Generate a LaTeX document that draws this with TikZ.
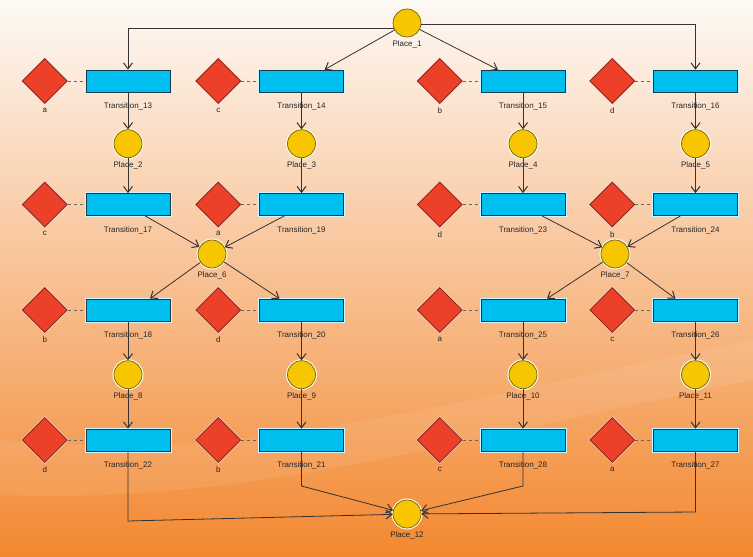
\documentclass[tikz,border=0pt]{standalone}
\usepackage{fontspec}
\setmainfont{Liberation Sans}
\usetikzlibrary{arrows.meta}
\usetikzlibrary{shapes.geometric}
\usetikzlibrary{positioning}
\definecolor{bgtop}{RGB}{253,249,245}
\definecolor{bgmid}{RGB}{251,212,176}
\definecolor{bgbot}{RGB}{243,136,48}
\definecolor{placefill}{RGB}{247,198,0}
\definecolor{placeline}{RGB}{110,95,30}
\definecolor{transfill}{RGB}{0,190,238}
\definecolor{transline}{RGB}{20,60,80}
\definecolor{guardfill}{RGB}{236,64,40}
\definecolor{guardline}{RGB}{120,30,20}

\begin{document}
\begin{tikzpicture}[x=1pt,y=-1pt,
>={Straight Barb[length=6pt,width=9pt,line width=1pt]},
lbl/.style = {font=\fontsize{8}{9}\selectfont, text=black!85, inner sep=1pt},
place_n/.style = {circle, minimum size=28pt, inner sep=0pt, draw=placeline, line width=0.7pt, fill=placefill,
  preaction={draw=white!85!yellow, line width=3pt}, label={[lbl,label distance=2.5pt]below:#1}},
trans_n/.style = {rectangle, minimum width=84pt, minimum height=22pt, inner sep=0pt, draw=transline, line width=0.7pt, fill=transfill,
  preaction={draw=white!85!cyan, line width=3pt}, label={[lbl,label distance=9.5pt]below:#1}},
guard_n/.style = {diamond, minimum size=45pt, inner sep=0pt, draw=guardline, line width=0.7pt, fill=guardfill,
  preaction={draw=white!80!red, line width=2pt}, label={[lbl,label distance=3pt]below:#1}},
arc/.style = {->, draw=black!80, line width=0.8pt},
link/.style = {dashed, draw=black!60, line width=0.8pt}
]
\shade[top color=bgtop, middle color=bgmid, bottom color=bgbot] (0,0) rectangle (753,557);
\fill[white, opacity=0.08] (0,440) .. controls (250,465) and (450,400) .. (753,340) -- (753,380) .. controls (450,440) and (250,505) .. (0,495) -- cycle;
\useasboundingbox (0,0) rectangle (753,557);

\node (P1) [place_n=Place\_1] at (407,23) {};

% first row
\node (T13) [trans_n=Transition\_13] at (128,81) {};
\node (T14) [trans_n=Transition\_14] at (301.5,81) {};
\node (T15) [trans_n=Transition\_15] at (523,81) {};
\node (T16) [trans_n=Transition\_16] at (695.5,81) {};
\node (g13) [guard_n=a, left=18pt of T13] {};
\node (g14) [guard_n=c, left=18pt of T14] {};
\node (g15) [guard_n=b, left=18pt of T15] {};
\node (g16) [guard_n=d, left=18pt of T16] {};
\node (P2) [place_n=Place\_2, below=37pt of T13] {};
\node (P3) [place_n=Place\_3, below=37pt of T14] {};
\node (P4) [place_n=Place\_4, below=37pt of T15] {};
\node (P5) [place_n=Place\_5, below=37pt of T16] {};

% second row
\node (T17) [trans_n=Transition\_17] at (128,204.5) {};
\node (T19) [trans_n=Transition\_19] at (301.5,204.5) {};
\node (T23) [trans_n=Transition\_23] at (523,204.5) {};
\node (T24) [trans_n=Transition\_24] at (695.5,204.5) {};
\node (g17) [guard_n=c, left=18pt of T17] {};
\node (g19) [guard_n=a, left=18pt of T19] {};
\node (g23) [guard_n=d, left=18pt of T23] {};
\node (g24) [guard_n=b, left=18pt of T24] {};
\node (P6) [place_n=Place\_6] at (212,254) {};
\node (P7) [place_n=Place\_7] at (615,254) {};

% third row
\node (T18) [trans_n=Transition\_18] at (128,310) {};
\node (T20) [trans_n=Transition\_20] at (301.5,310) {};
\node (T25) [trans_n=Transition\_25] at (523,310) {};
\node (T26) [trans_n=Transition\_26] at (695.5,310) {};
\node (g18) [guard_n=b, left=18pt of T18] {};
\node (g20) [guard_n=d, left=18pt of T20] {};
\node (g25) [guard_n=a, left=18pt of T25] {};
\node (g26) [guard_n=c, left=18pt of T26] {};
\node (P8) [place_n=Place\_8, below=39pt of T18] {};
\node (P9) [place_n=Place\_9, below=39pt of T20] {};
\node (P10) [place_n=Place\_10, below=39pt of T25] {};
\node (P11) [place_n=Place\_11, below=39pt of T26] {};

% fourth row
\node (T22) [trans_n=Transition\_22] at (128,440) {};
\node (T21) [trans_n=Transition\_21] at (301.5,440) {};
\node (T28) [trans_n=Transition\_28] at (523,440) {};
\node (T27) [trans_n=Transition\_27] at (695.5,440) {};
\node (g22) [guard_n=d, left=18pt of T22] {};
\node (g21) [guard_n=b, left=18pt of T21] {};
\node (g28) [guard_n=c, left=18pt of T28] {};
\node (g27) [guard_n=a, left=18pt of T27] {};
\node (P12) [place_n=Place\_12] at (407,514) {};

\coordinate (c22) at (128,521);
\coordinate (c21) at (301.5,486);
\coordinate (c28) at (523,486);
\coordinate (c27) at (695.5,512);

% guards
\foreach \t in {13,14,15,16,17,19,23,24,18,20,25,26,22,21,28,27}
  \draw[link] (g\t.east) -- (T\t.west);

% arcs
\draw[arc] (P1.201) -| (T13.north);
\draw[arc] (P1) -- ([xshift=23pt]T14.north);
\draw[arc] (P1) -- ([xshift=-25pt]T15.north);
\draw[arc] (P1.-6) -| (T16.north);
\draw[arc] (T13) -- (P2);
\draw[arc] (T14) -- (P3);
\draw[arc] (T15) -- (P4);
\draw[arc] (T16) -- (P5);
\draw[arc] (P2) -- (T17);
\draw[arc] (P3) -- (T19);
\draw[arc] (P4) -- (T23);
\draw[arc] (P5) -- (T24);
\draw[arc] ([xshift=17pt]T17.south) -- (P6);
\draw[arc] ([xshift=-17pt]T19.south) -- (P6);
\draw[arc] ([xshift=19pt]T23.south) -- (P7);
\draw[arc] ([xshift=-15pt]T24.south) -- (P7);
\draw[arc] (P6) -- ([xshift=22pt]T18.north);
\draw[arc] (P6) -- ([xshift=-22pt]T20.north);
\draw[arc] (P7) -- ([xshift=24pt]T25.north);
\draw[arc] (P7) -- ([xshift=-20pt]T26.north);
\draw[arc] (T18) -- (P8);
\draw[arc] (T20) -- (P9);
\draw[arc] (T25) -- (P10);
\draw[arc] (T26) -- (P11);
\draw[arc] (P8) -- (T22);
\draw[arc] (P9) -- (T21);
\draw[arc] (P10) -- (T28);
\draw[arc] (P11) -- (T27);
\draw[arc] (T22) -- (c22) -- (P12);
\draw[arc] (T21) -- (c21) -- (P12);
\draw[arc] (T28) -- (c28) -- (P12);
\draw[arc] (T27) -- (c27) -- (P12);
\end{tikzpicture}
\end{document}
